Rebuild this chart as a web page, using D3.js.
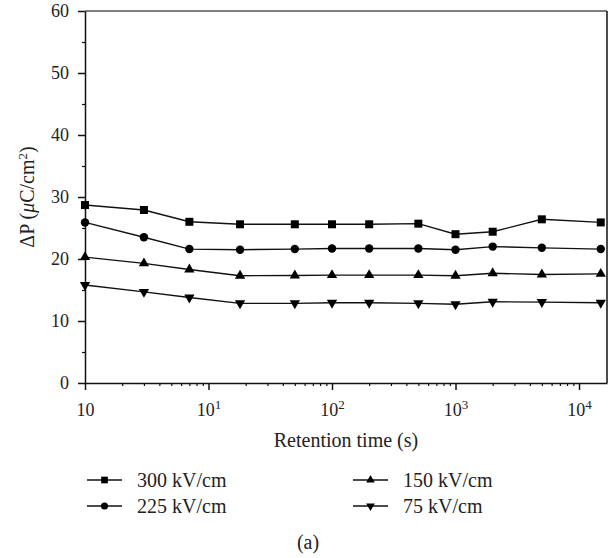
<!DOCTYPE html>
<html>
<head>
<meta charset="utf-8">
<script src="https://cdn.jsdelivr.net/npm/d3@7"></script>
<style>
  body { margin: 0; background: #fff; }
</style>
</head>
<body>
<svg id="chart" width="613" height="558"></svg>
<script>
// Retention time (s) and polarization loss for each poling field
const times = [1, 3, 7, 18, 50, 100, 200, 500, 1000, 2000, 5000, 15000];
const p300 = [28.7, 27.9, 26.0, 25.6, 25.6, 25.6, 25.6, 25.7, 24.0, 24.4, 26.4, 25.9];
const p225 = [25.9, 23.5, 21.6, 21.5, 21.6, 21.7, 21.7, 21.7, 21.5, 22.0, 21.8, 21.6];
const p150 = [20.3, 19.3, 18.3, 17.3, 17.35, 17.4, 17.4, 17.4, 17.3, 17.7, 17.5, 17.6];
const p75 = [15.8, 14.7, 13.8, 12.85, 12.85, 12.95, 12.95, 12.85, 12.7, 13.1, 13.05, 12.95];
const seriesNames = ["300 kV/cm", "225 kV/cm", "150 kV/cm", "75 kV/cm"];
const xTicks = [1, 10, 100, 1000, 10000];
const yTicks = [0, 10, 20, 30, 40, 50, 60];

const SERIF = '"Liberation Serif", "DejaVu Serif", "Times New Roman", serif';
const plotLeft = 85, plotRight = 607, plotTop = 11, plotBottom = 383;

const svg = d3.select("#chart").style("font-family", SERIF);

const x = d3.scaleLog().domain([1, 16850]).range([plotLeft, plotRight]);
const y = d3.scaleLinear().domain([0, 60]).range([plotBottom, plotTop]);

// frame: top and right border
svg.append("line").attr("x1", plotLeft).attr("x2", plotRight).attr("y1", plotTop).attr("y2", plotTop)
    .attr("stroke", "#555").attr("stroke-width", 1.5);
svg.append("line").attr("x1", plotRight).attr("x2", plotRight).attr("y1", plotTop).attr("y2", plotBottom)
    .attr("stroke", "#111").attr("stroke-width", 1.5);

// minor ticks
const xMinor = [];
for (let e = 0; e < 5; e++) {
    for (let m = 2; m < 10; m++) {
        const v = m * Math.pow(10, e);
        if (v < 16850) xMinor.push(v);
    }
}
svg.append("g")
    .attr("transform", "translate(0," + plotBottom + ")")
    .call(d3.axisBottom(x).tickValues(xMinor).tickSize(3).tickFormat(""))
    .call(g => g.select(".domain").remove())
    .selectAll("line").attr("stroke", "#111").attr("stroke-width", 1.2);

svg.append("g")
    .attr("transform", "translate(" + plotLeft + ",0)")
    .call(d3.axisLeft(y).tickValues([5, 15, 25, 35, 45, 55]).tickSize(3).tickFormat(""))
    .call(g => g.select(".domain").remove())
    .selectAll("line").attr("stroke", "#111").attr("stroke-width", 1.2);

// X axis
const xAxis = svg.append("g")
    .attr("transform", "translate(0," + plotBottom + ")")
    .call(d3.axisBottom(x).tickValues(xTicks).tickSize(7).tickSizeOuter(0).tickPadding(10).tickFormat(""));
xAxis.select(".domain").attr("stroke", "#111").attr("stroke-width", 1.5);
xAxis.selectAll("line").attr("stroke", "#111").attr("stroke-width", 1.5);
xAxis.selectAll(".tick text")
    .attr("font-size", 18)
    .attr("fill", "#222")
    .attr("dy", "0.9em")
    .each(function(d) {
        const t = d3.select(this);
        const exp = Math.round(Math.log10(d));
        t.text("10");
        if (exp > 0) {
            t.append("tspan").attr("dy", -7).attr("font-size", 13).text(exp);
        }
    });

// Y axis
const yAxis = svg.append("g")
    .attr("transform", "translate(" + plotLeft + ",0)")
    .call(d3.axisLeft(y).tickValues(yTicks).tickSize(7).tickSizeOuter(0).tickPadding(9));
yAxis.select(".domain").attr("stroke", "#111").attr("stroke-width", 1.5);
yAxis.selectAll("line").attr("stroke", "#111").attr("stroke-width", 1.5);
yAxis.selectAll("text").attr("font-size", 18).attr("fill", "#222");

// axis titles
svg.append("text")
    .attr("x", (plotLeft + plotRight) / 2)
    .attr("y", 447)
    .attr("text-anchor", "middle")
    .attr("font-size", 20)
    .text("Retention time (s)");

const yl = svg.append("text")
    .attr("transform", "translate(34," + ((plotTop + plotBottom) / 2) + ") rotate(-90)")
    .attr("text-anchor", "middle")
    .attr("font-size", 20);
yl.append("tspan").text("ΔP (");
yl.append("tspan").attr("font-style", "italic").text("μ");
yl.append("tspan").text("C/cm");
yl.append("tspan").attr("dy", -7).attr("font-size", 13).text("2");
yl.append("tspan").attr("dy", 7).text(")");

// series
const symbols = [
    { type: d3.symbolSquare, size: 64, rot: 0 },
    { type: d3.symbolCircle, size: 56, rot: 0 },
    { type: d3.symbolTriangle, size: 46, rot: 0 },
    { type: d3.symbolTriangle, size: 46, rot: 180 }
];
const allSeries = [p300, p225, p150, p75];

const line = d3.line()
    .x((d, i) => x(times[i]))
    .y(d => y(d));

allSeries.forEach((vals, k) => {
    svg.append("path")
        .datum(vals)
        .attr("fill", "none")
        .attr("stroke", "#111")
        .attr("stroke-width", 1.4)
        .attr("d", line);

    svg.append("g").selectAll("path")
        .data(vals)
        .join("path")
        .attr("transform", (d, i) => "translate(" + x(times[i]) + "," + y(d) + ") rotate(" + symbols[k].rot + ")")
        .attr("d", d3.symbol().type(symbols[k].type).size(symbols[k].size))
        .attr("fill", "#000");
});

// legend
const legendPos = [
    { x: 87, y: 480 },
    { x: 87, y: 506 },
    { x: 353, y: 480 },
    { x: 353, y: 506 }
];
seriesNames.forEach((name, k) => {
    const p = legendPos[k];
    const g = svg.append("g").attr("transform", "translate(" + p.x + "," + p.y + ")");
    g.append("line").attr("x1", 0).attr("x2", 35).attr("y1", 0).attr("y2", 0)
        .attr("stroke", "#111").attr("stroke-width", 1.4);
    g.append("path")
        .attr("transform", "translate(17.5,0) rotate(" + symbols[k].rot + ")")
        .attr("d", d3.symbol().type(symbols[k].type).size(symbols[k].size * 0.7))
        .attr("fill", "#000");
    g.append("text")
        .attr("x", 50)
        .attr("y", 7)
        .attr("font-size", 20)
        .text(name);
});

svg.append("text")
    .attr("x", 308)
    .attr("y", 549)
    .attr("text-anchor", "middle")
    .attr("font-size", 20)
    .text("(a)");

// force the serif face everywhere (axis groups set sans-serif by default)
svg.selectAll("g").attr("font-family", null);
svg.selectAll("text").style("font-family", SERIF).style("fill", "#222");
</script>
</body>
</html>
